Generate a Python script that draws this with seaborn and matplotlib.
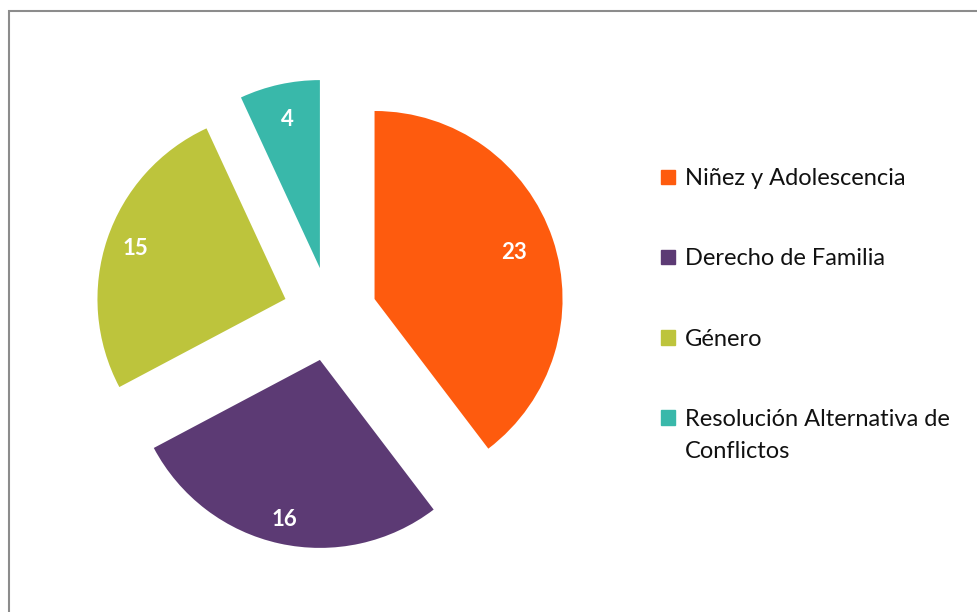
import numpy as np
import matplotlib
matplotlib.use("Agg")
import matplotlib.pyplot as plt
import matplotlib.patches as mpatches
import seaborn as sns

categorias = ["Niñez y Adolescencia", "Derecho de Familia", "Género",
              "Resolución Alternativa de"]
categoria_linea2 = "Conflictos"
valores = [23, 16, 15, 4]
colores = ["#FE5B0E", "#5C3A74", "#BDC43C", "#39B8AA"]

sns.set_theme(style="white")
plt.rcParams['font.family'] = ['Lato', 'DejaVu Sans']
paleta = sns.color_palette(colores)

fig = plt.figure(figsize=(9.77, 6.12), dpi=100)
ax = fig.add_axes([0, 0, 660 / 977, 1])

total = sum(valores)
pct_base = 0.83
wedges, _, autotexts = ax.pie(
    valores,
    colors=paleta,
    startangle=90,
    counterclock=False,
    explode=[0.25] * len(valores),
    autopct=lambda p: f"{round(p * total / 100):d}",
    pctdistance=pct_base,
    radius=1,
    wedgeprops=dict(linewidth=0),
)
# distancia de cada etiqueta al centro de su porcion (como en Excel)
dist_etiquetas = [0.78, 0.87, 0.84, 0.81]
for w, t, d in zip(wedges, autotexts, dist_etiquetas):
    cx, cy = w.center
    px, py = t.get_position()
    t.set_position((cx + (px - cx) * d / pct_base, cy + (py - cy) * d / pct_base))
    t.set_color("white")
    t.set_fontweight("bold")
    t.set_fontsize(16)

ax.set_xlim(-330 / 188, 330 / 188)
ax.set_ylim((314 - 612) / 188, 314 / 188)
ax.set_aspect("auto")
ax.axis("off")

handles = [mpatches.Patch(color=c, label=l) for c, l in zip(paleta, categorias)]
leg = fig.legend(handles=handles, loc="upper left", bbox_to_anchor=(652 / 977, 1 - 159 / 612),
                 frameon=False, fontsize=17, labelspacing=2.5, handlelength=0.58,
                 handleheight=0.58, handletextpad=0.4, borderaxespad=0)
for t in leg.get_texts():
    t.set_color("#111111")

# segunda linea de la ultima entrada, bajo la primera
fig.canvas.draw()
bb = leg.get_texts()[-1].get_window_extent()
x0, y0 = fig.transFigure.inverted().transform((bb.x0, bb.y0 - 32))
fig.text(x0, y0, categoria_linea2, ha="left", va="bottom", fontsize=17, color="#111111")

# marco gris del grafico
fig.patches.append(mpatches.Rectangle((9 / 977, -0.1), 1.2, 1.1 - 11 / 612,
                                      transform=fig.transFigure, fill=False,
                                      edgecolor="#8c8c8c", linewidth=1.5))

fig.savefig("out.png", dpi=100, facecolor="white")
